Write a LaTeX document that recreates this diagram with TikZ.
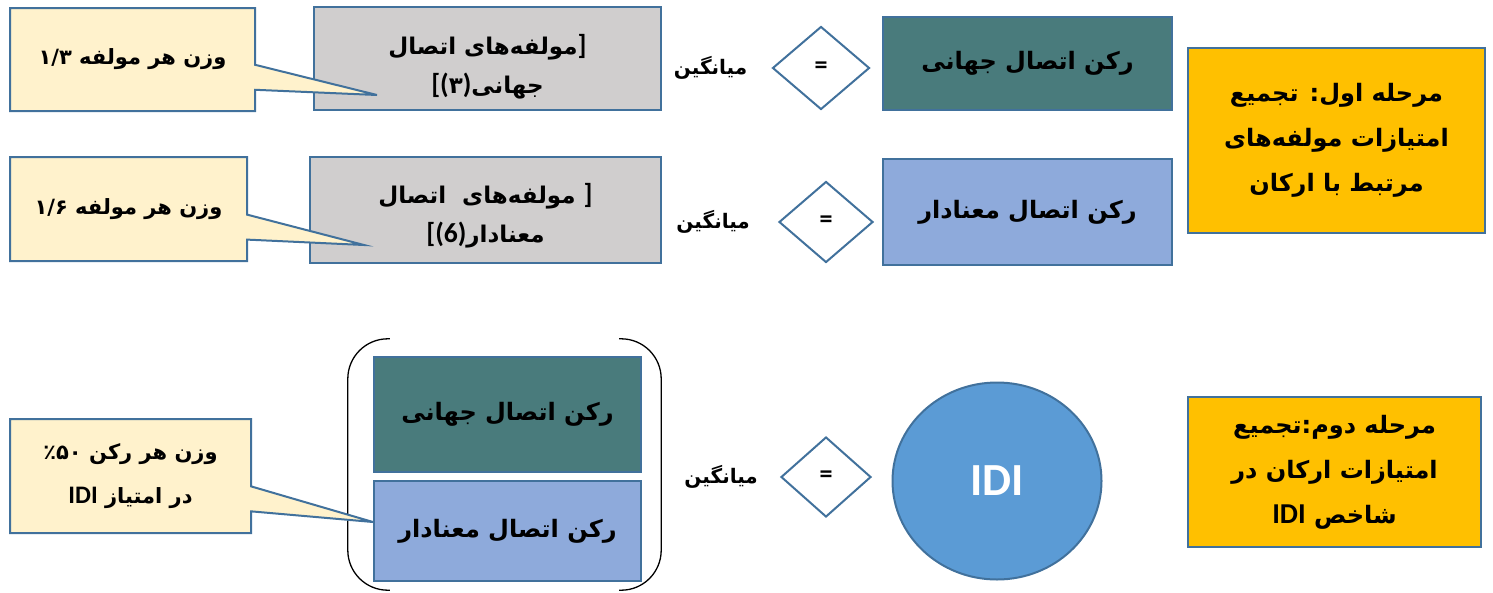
\documentclass[tikz,border=0pt]{standalone}
\usepackage{fontspec}
\setmainfont{Carlito}
\newfontfamily\persianfont[Script=Arabic]{DejaVu Sans}
\newfontfamily\latinfont[Scale=1.2]{Carlito}
\TeXXeTstate=1
\usepackage{tikz}
\usetikzlibrary{shapes.geometric,shapes.callouts,positioning}
\definecolor{outline}{HTML}{41719C}
\definecolor{notefill}{HTML}{FFF2CC}
\definecolor{compfill}{HTML}{D0CECE}
\definecolor{globalfill}{HTML}{497B7C}
\definecolor{meanfill}{HTML}{8EAADB}
\definecolor{stagefill}{HTML}{FFC000}
\definecolor{idifill}{HTML}{5B9BD5}
\newcommand\latn[1]{{\latinfont #1}}
\tikzset{
    %Define style for weight notes
    weightcall/.style={
           rectangle callout,
           draw=outline, line width=2pt,
           fill=notefill,
           inner sep=0pt,
           callout pointer width=25pt,
           font=\persianfont\bfseries\fontsize{21}{44}\selectfont,
           align=center},
    %Define style for component boxes
    compbox/.style={
           rectangle,
           draw=outline, line width=2pt,
           fill=compfill,
           inner sep=0pt,
           font=\persianfont\bfseries\fontsize{23}{39}\selectfont,
           align=center},
    %Define style for pillar boxes
    pillarbox/.style={
           rectangle,
           draw=outline, line width=2pt,
           inner sep=0pt,
           minimum width=289pt,
           font=\persianfont\bfseries\fontsize{24}{28}\selectfont,
           text centered},
    stagebox/.style={
           rectangle,
           draw=outline, line width=2pt,
           fill=stagefill,
           inner sep=0pt,
           font=\persianfont\bfseries\fontsize{24}{45}\selectfont,
           align=center},
    eqdiamond/.style={
           diamond,
           draw=outline, line width=2pt,
           fill=white,
           inner sep=0pt,
           font=\bfseries\fontsize{26}{28}\selectfont},
    avgtext/.style={
           inner sep=0pt,
           font=\persianfont\bfseries\fontsize{20}{24}\selectfont},
    bracketline/.style={
           draw=black, line width=1.3pt,
           rounded corners=40pt}
}

\begin{document}
\begin{tikzpicture}[x=1pt,y=-1pt]
\useasboundingbox (0,0) rectangle (1493,592);
 %nodes
\node[compbox, minimum width=347pt, minimum height=103pt] (comp1) at (487.5,58.5)
    {\rule{0pt}{36pt}\beginR مولفه‌های اتصال\endR\latn{]}\\\latn{[(}۳\latn{)}\beginR جهانی\endR};
\node[compbox, minimum width=351pt, minimum height=106pt] (comp2) at (485.5,210)
    {\rule{0pt}{31pt}\beginR مولفه‌های\ \ اتصال\endR\ \latn{]}\\\latn{[(6)}\beginR معنادار\endR};

\coordinate (tip1) at (377,95);
\coordinate (tip2) at (364,245);
\coordinate (tip3) at (373,522);
\node[weightcall, minimum width=245pt, minimum height=103pt,
      callout absolute pointer={(tip1)}] (note1) at (132.5,59.5)
    {\beginR وزن هر مولفه \beginL۱/۳\endL\endR};
\node[weightcall, minimum width=237pt, minimum height=104pt,
      callout absolute pointer={(tip2)}] (note2) at (128.5,209)
    {\beginR وزن هر مولفه \beginL۱/۶\endL\endR};

\node[eqdiamond, minimum width=97pt, minimum height=83pt] (eq1) at (821,68) {=};
\node[eqdiamond, minimum width=94pt, minimum height=81pt] (eq2) at (826,222) {=};
\node[avgtext, left=24pt of eq1] (avg1) {\beginR میانگین\endR};
\node[avgtext, left=28pt of eq2] (avg2) {\beginR میانگین\endR};

\node[pillarbox, fill=globalfill, minimum height=93pt] (glob1) at (1027.5,63.5)
    {\beginR رکن اتصال جهانی\endR};
\node[pillarbox, fill=meanfill, minimum height=106pt, below=47pt of glob1] (mean1)
    {\beginR رکن اتصال معنادار\endR};

\node[stagebox, minimum width=297pt, minimum height=185pt] (stage1) at (1336.5,140.5)
    {\beginR مرحله اول: تجمیع\endR\\\beginR امتیازات مولفه‌های\endR\\\beginR مرتبط با ارکان\endR};

% second stage
\node[pillarbox, fill=globalfill, minimum width=267pt, minimum height=115pt] (glob2) at (507.5,414.5)
    {\beginR رکن اتصال جهانی\endR};
\node[pillarbox, fill=meanfill, minimum width=267pt, minimum height=100pt, below=7pt of glob2] (mean2)
    {\beginR رکن اتصال معنادار\endR};
\node[minimum width=313pt, minimum height=251pt] (group) at (504.5,464.5) {};
\draw[bracketline] ([xshift=42pt]group.north west) -- (group.north west)
    -- (group.south west) -- ([xshift=42pt]group.south west);
\draw[bracketline] ([xshift=-42pt]group.north east) -- (group.north east)
    -- (group.south east) -- ([xshift=-42pt]group.south east);

\node[weightcall, minimum width=241pt, minimum height=114pt,
      callout absolute pointer={(tip3)}] (note3) at (130.5,476)
    {\beginR وزن هر رکن ۵۰\kern0pt٪\endR\\\beginR در امتیاز \beginL\latn{IDI}\endL\endR};

\node[eqdiamond, minimum width=90pt, minimum height=80pt] (eq3) at (826,477) {=};
\node[avgtext, left=22pt of eq3] (avg3) {\beginR میانگین\endR};

\node[ellipse, draw=outline, line width=2pt, fill=idifill, minimum width=209pt, minimum height=197pt,
      text=white, font=\bfseries\fontsize{46}{50}\selectfont] (idi) at (997,481) {IDI};

\node[stagebox, minimum width=293pt, minimum height=150pt] (stage2) at (1334.5,472)
    {\beginR مرحله دوم:تجمیع\endR\\\beginR امتیازات ارکان در\endR\\\beginR شاخص \beginL\latn{IDI}\endL\endR};
\end{tikzpicture}
\end{document}
